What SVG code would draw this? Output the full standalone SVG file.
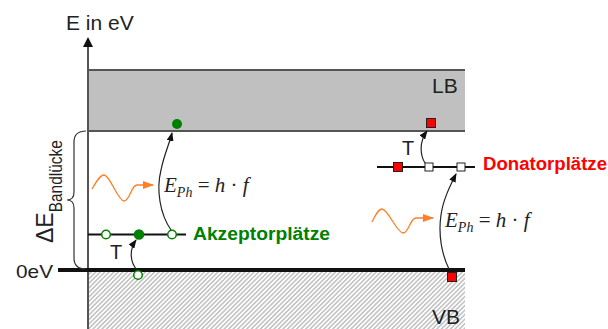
<svg xmlns="http://www.w3.org/2000/svg" width="608" height="329" viewBox="0 0 608 329">
<style>
.lbl{font-family:"Liberation Sans",Arial,sans-serif;fill:#222;}
.frm{font-family:"Liberation Serif","Times New Roman",serif;fill:#222;font-size:21px;}
.bold{font-family:"Liberation Sans",Arial,sans-serif;font-weight:bold;font-size:18px;}
.dot{stroke:#008000;stroke-width:1.5;}
.sq{stroke:#222;stroke-width:1;}
.arr{fill:none;stroke:#222;stroke-width:1.2;marker-end:url(#ah);}
.wave{fill:none;stroke:#ff7f27;stroke-width:1.3;}
</style>
<defs>
<marker id="ah" markerUnits="userSpaceOnUse" markerWidth="9" markerHeight="7" refX="8" refY="3.5" orient="auto">
<path d="M0,0 L9,3.5 L0,7 z" fill="#111"/>
</marker>
<marker id="oh" markerUnits="userSpaceOnUse" markerWidth="11" markerHeight="8" refX="10" refY="4" orient="auto">
<path d="M0,0 L11,4 L0,8 z" fill="#ff7f27"/>
</marker>
<pattern id="hatch" patternUnits="userSpaceOnUse" width="3.2" height="3.2" patternTransform="rotate(45)">
<rect x="0" y="0" width="1.6" height="3.2" fill="#c4c4c4"/>
</pattern>
</defs>
<rect width="608" height="329" fill="#fff"/>

<g id="LB">
<rect x="88" y="70" width="377" height="61" fill="#c0c0c0"/>
<line x1="88" y1="70" x2="465" y2="70" stroke="#555" stroke-width="2"/>
<line x1="88" y1="131" x2="465" y2="131" stroke="#555" stroke-width="2"/>
<text class="lbl" x="432" y="93" font-size="21">LB</text>
</g>

<g id="VB">
<rect x="88" y="272" width="377" height="57" fill="url(#hatch)"/>
<text class="lbl" x="432" y="324" font-size="21">VB</text>
</g>

<g id="axis">
<line x1="88" y1="45" x2="88" y2="329" stroke="#555" stroke-width="2"/>
<path d="M88,37 L83,47 L93,47 z" fill="#111"/>
<text class="lbl" x="66" y="30" font-size="21">E in eV</text>
<line x1="58" y1="270" x2="465" y2="270" stroke="#111" stroke-width="4"/>
<text class="lbl" x="16" y="278" font-size="19" textLength="37" lengthAdjust="spacingAndGlyphs">0eV</text>
</g>

<g id="bandgap">
<path d="M86,131 Q74,131 74,142 L74,192 Q74,200 67,200 Q74,200 74,208 L74,258 Q74,269 86,269" fill="none" stroke="#333" stroke-width="1.2"/>
<text class="lbl" transform="translate(53,243) rotate(-90)" font-size="23">ΔE<tspan font-size="19" dy="9" textLength="72" lengthAdjust="spacingAndGlyphs">Bandlücke</tspan></text>
</g>

<g id="akzeptor">
<line x1="88" y1="234.5" x2="186" y2="234.5" stroke="#111" stroke-width="2"/>
<circle class="dot" cx="106" cy="234.5" r="4.3" fill="#fff"/>
<circle class="dot" cx="139" cy="234.5" r="4.5" fill="#008000"/>
<circle class="dot" cx="172" cy="234.5" r="4.3" fill="#fff"/>
<circle class="dot" cx="138" cy="275" r="4.3" fill="#fff"/>
<circle cx="177" cy="124" r="5" fill="#008000"/>
<text class="bold" x="193" y="240" fill="#008000" textLength="137" lengthAdjust="spacingAndGlyphs">Akzeptorplätze</text>
<text class="lbl" x="110" y="259" font-size="20">T</text>
<text class="frm" x="164" y="192"><tspan font-style="italic">E</tspan><tspan font-style="italic" font-size="14" dy="5">Ph</tspan><tspan dy="-5"> = </tspan><tspan font-style="italic">h</tspan><tspan> · </tspan><tspan font-style="italic">f</tspan></text>
</g>

<g id="donator">
<line x1="377" y1="167" x2="475" y2="167" stroke="#111" stroke-width="2"/>
<rect class="sq" x="393.5" y="162.5" width="9" height="9" fill="#ff0000"/>
<rect class="sq" x="425" y="163" width="8" height="8" fill="#fff"/>
<rect class="sq" x="457" y="163" width="8" height="8" fill="#fff"/>
<rect class="sq" x="426.5" y="118.5" width="9" height="9" fill="#ff0000"/>
<rect class="sq" x="447.5" y="272.5" width="9" height="9" fill="#ff0000"/>
<text class="bold" x="483" y="170" fill="#ff0000" textLength="124" lengthAdjust="spacingAndGlyphs">Donatorplätze</text>
<text class="lbl" x="402" y="155" font-size="20">T</text>
<text class="frm" x="445" y="227"><tspan font-style="italic">E</tspan><tspan font-style="italic" font-size="14" dy="5">Ph</tspan><tspan dy="-5"> = </tspan><tspan font-style="italic">h</tspan><tspan> · </tspan><tspan font-style="italic">f</tspan></text>
</g>

<g id="connectors">
<path class="arr" d="M137,270 C130,262 129,250 136,240"/>
<path class="arr" d="M171,230 C160,214 156,190 161,170 C164,155 169,145 172,133"/>
<path class="arr" d="M425,163 C420,155 419,142 427,131"/>
<path class="arr" d="M449,269 C442,255 438,235 441,215 C443,200 450,186 456,174"/>
<path class="wave" marker-end="url(#oh)" d="M92,189 C96,182 100,175 104,175 C110,175 118,201 124,201 C130,201 131,185 137,185 L153,185"/>
<path class="wave" marker-end="url(#oh)" d="M372,222 C375,216 378,209 382,209 C388,209 397,233 403,233 C409,233 410,218 416,218 L433,218"/>
</g>
</svg>
